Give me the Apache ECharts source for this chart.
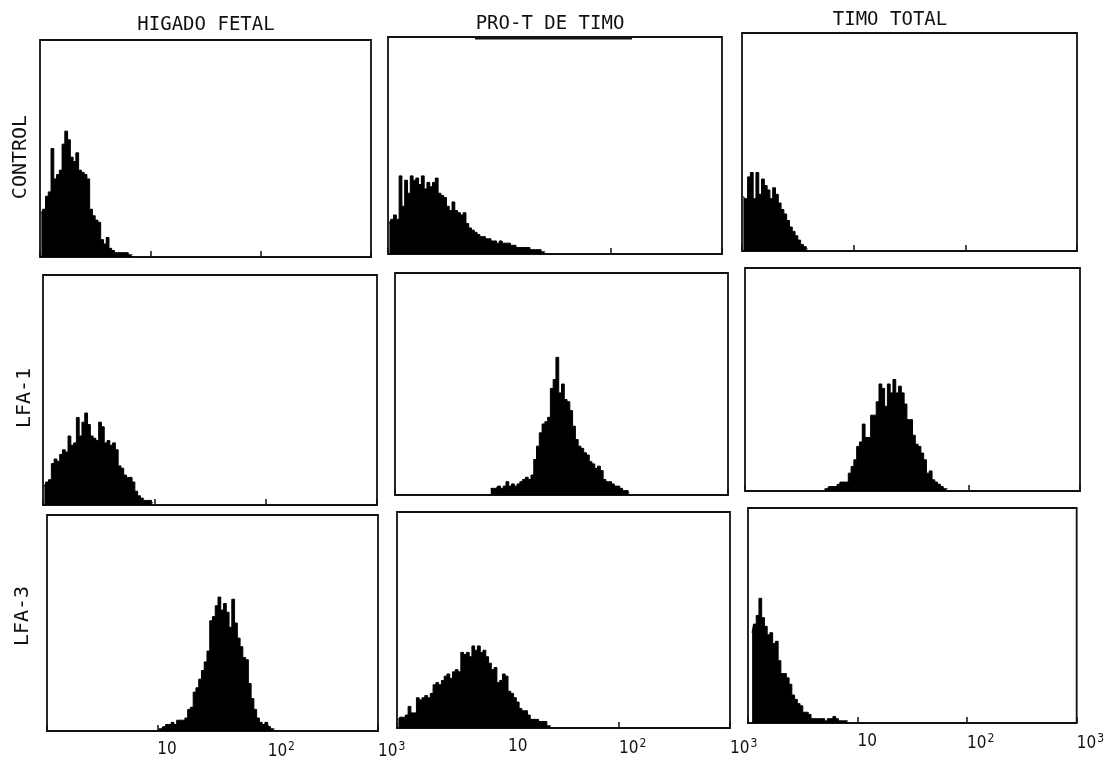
<!DOCTYPE html>
<html><head><meta charset="utf-8">
<script src="https://cdn.jsdelivr.net/npm/echarts@6/dist/echarts.min.js"></script>
<style>html,body{margin:0;padding:0;background:#fff}#c{width:1107px;height:761px}</style>
</head><body><div id="c"></div>
<script>
// ---- text ----
const colTitles = ['HIGADO FETAL', 'PRO-T DE TIMO', 'TIMO TOTAL'];
const rowTitles = ['CONTROL', 'LFA-1', 'LFA-3'];
// log fluorescence axis: 40 channels per decade, 1 .. 10^3
const channelMax = 120;
const tickValues = [40, 80, 120];
const tickLabels = ['10', '10{sup|2}', '10{sup|3}'];

// ---- histogram counts (% of panel height), per channel, starting at firstChannel ----
const hfControl = [20,22,28,30,50,36,38,40,52,58,54,46,44,48,40,39,38,36,22,19,17,16,8,6,9,4,3,2,2,2,2,2,1,1];
const ptControl = [14,16,18,16,36,22,34,28,36,34,35,32,36,30,33,31,33,35,28,27,26,22,20,24,20,19,18,19,14,12,11,10,9,8,8,7,7,6,6,5,6,5,5,5,4,4,3,3,3,3,3,2,2,2,2,1,1];
const ttControl = [25,24,34,36,24,36,26,33,30,28,24,29,26,22,19,17,14,11,9,7,5,3,2,1];
const hfLfa1 = [8,10,11,18,20,19,22,24,23,30,26,27,38,30,36,40,35,30,29,28,36,34,27,28,26,27,24,17,16,13,12,12,10,6,4,3,2,2,2,1];
const ptLfa1 = [3,3,3,4,3,4,6,4,5,4,5,6,7,8,7,9,16,22,28,32,33,35,48,52,62,46,50,43,42,38,31,25,22,21,19,18,15,14,12,13,11,7,6,6,5,4,4,3,2,2,1];
const ttLfa1 = [1,1,2,2,2,3,4,4,4,8,11,14,20,22,30,24,24,34,34,40,48,46,38,48,44,50,44,47,44,39,32,32,25,21,20,17,14,8,9,5,4,3,2,1,1];
const hfLfa3 = [1,1,2,3,3,4,3,5,5,5,6,10,11,18,20,24,28,32,37,51,53,58,62,56,59,55,48,61,50,43,39,34,33,22,15,10,6,4,3,4,2,1,1];
const ptLfa3 = [4,5,5,6,10,7,7,14,13,14,15,14,16,20,21,20,22,24,25,23,26,27,26,35,34,35,33,38,36,38,35,36,33,30,27,28,21,22,25,24,17,16,14,12,9,8,8,6,4,4,4,3,3,3,1,1];
const ttLfa3 = [42,46,50,58,49,45,41,42,37,38,29,23,23,21,18,13,11,9,8,5,5,4,2,2,2,2,2,1,2,2,3,2,1,1,1,1];

const panelCounts = [hfControl, ptControl, ttControl, hfLfa1, ptLfa1, ttLfa1, hfLfa3, ptLfa3, ttLfa3];
const firstChannel = [0, 0, 0, 0, 34, 28, 40, 0, 1];

// ---- layout (pixels) ----
const boxes = [
  [40, 40, 331, 217], [388, 37, 334, 217], [742, 33, 335, 218],
  [43, 275, 334, 230], [395, 273, 333, 222], [745, 268, 335, 223],
  [47, 515, 331, 216], [397, 512, 333, 216], [748, 508, 335, 215]
];
const MONO = "'DejaVu Sans Mono','Liberation Mono',monospace";
const NUMF = "'Liberation Sans Narrow','DejaVu Sans Condensed','DejaVu Sans',sans-serif";

const grid = [], xAxis = [], yAxis = [], series = [];
boxes.forEach((b, k) => {
  const row = Math.floor(k / 3);
  grid.push({left: b[0], top: b[1], width: b[2], height: b[3], show: true,
    borderColor: '#111', borderWidth: 1.8, backgroundColor: '#fff'});
  xAxis.push({
    type: 'value', gridIndex: k, min: 0, max: channelMax, interval: 40,
    axisLine: {show: false},
    axisTick: {show: true, inside: true, length: 6, lineStyle: {color: '#111', width: 1.5}},
    splitLine: {show: false},
    axisLabel: {
      show: row === 2, margin: 10, color: '#111', fontFamily: NUMF, fontSize: 17, align: 'left',
      formatter: v => { const i = tickValues.indexOf(v); return i < 0 ? '' : tickLabels[i]; },
      rich: {sup: {fontSize: 12, fontFamily: NUMF, color: '#111', padding: [0, 0, 10, 1]}}
    }
  });
  yAxis.push({type: 'value', gridIndex: k, min: 0, max: 100, show: false, splitLine: {show: false}});
  const vals = panelCounts[k], f = firstChannel[k];
  series.push({
    type: 'line', xAxisIndex: k, yAxisIndex: k, step: 'middle', symbol: 'none',
    lineStyle: {color: '#000', width: 1}, areaStyle: {color: '#000', opacity: 1},
    data: vals.map((v, i) => [f + i + 0.5, v]), silent: true
  });
});

const colTitlePos = [[206, 25], [550, 24], [890, 20]];
const rowTitlePos = [[21, 157], [25, 398], [23, 616]];
const graphic = [];
colTitles.forEach((t, i) => graphic.push({type: 'text', x: colTitlePos[i][0], y: colTitlePos[i][1],
  style: {text: t, fill: '#111', font: '19px ' + MONO, textAlign: 'center', textVerticalAlign: 'middle'}}));
rowTitles.forEach((t, i) => graphic.push({type: 'text', x: rowTitlePos[i][0], y: rowTitlePos[i][1], rotation: Math.PI / 2,
  style: {text: t, fill: '#111', font: '20px ' + MONO, textAlign: 'center', textVerticalAlign: 'middle'}}));
graphic.push({type: 'line', shape: {x1: 475, y1: 38, x2: 632, y2: 38}, style: {stroke: '#111', lineWidth: 3}});

const chart = echarts.init(document.getElementById('c'), null, {renderer: 'canvas'});
chart.setOption({animation: false, backgroundColor: '#fff', grid, xAxis, yAxis, series, graphic});
</script></body></html>
